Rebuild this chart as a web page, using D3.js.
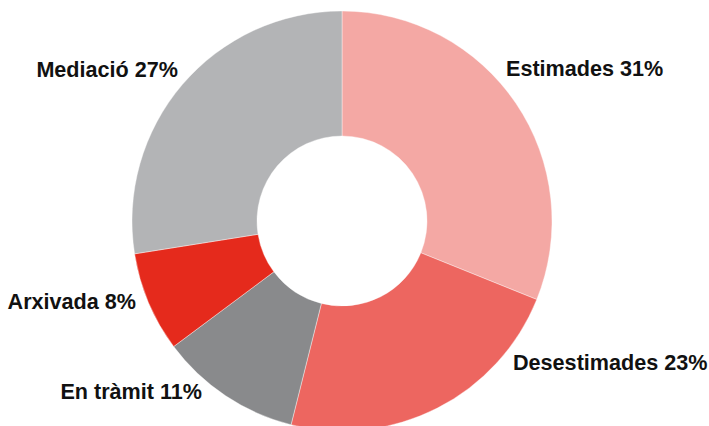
<!DOCTYPE html>
<html>
<head>
<meta charset="utf-8">
<script src="https://cdn.jsdelivr.net/npm/d3@7"></script>
<style>
  body { margin: 0; background: #fff; }
  svg { display: block; }
  .lbl { font-family: "Liberation Sans", Arial, sans-serif; font-weight: bold; font-size: 21.6px; fill: #111; }
</style>
</head>
<body>
<svg id="chart"></svg>
<script>
let w = 709;
let h = 426;

// data (slice shares, in clockwise order from 12 o'clock)
let categories = ["Estimades", "Desestimades", "En tràmit", "Arxivada", "Mediació"];
let shares = [31.1, 22.8, 10.9, 7.7, 27.5];
let percentLabels = ["31%", "23%", "11%", "8%", "27%"];
let colors = ["#f4a8a4", "#ed6660", "#898a8c", "#e52a1c", "#b3b4b6"];

// label placement (layout only)
let labelPos = [
  { x: 506, y: 76, anchor: "start" },
  { x: 513, y: 370, anchor: "start" },
  { x: 202, y: 399, anchor: "end" },
  { x: 136, y: 309, anchor: "end" },
  { x: 178, y: 77, anchor: "end" }
];

let cx = 342, cy = 221;
let outerR = 210, innerR = 85;

let svg = d3.select("#chart").attr("width", w).attr("height", h);

let dataset = categories.map((c, i) => ({ name: c, value: shares[i], pct: percentLabels[i] }));

let pie = d3.pie().sort(null).value((d) => d.value);
let arc = d3.arc().innerRadius(innerR).outerRadius(outerR);

let g = svg.append("g").attr("transform", `translate(${cx}, ${cy})`);

g.selectAll("path")
  .data(pie(dataset))
  .enter()
  .append("path")
  .attr("d", arc)
  .attr("fill", (d, i) => colors[i])
  .attr("stroke", "#fff")
  .attr("stroke-width", 0.4);

svg.selectAll("text.lbl")
  .data(dataset)
  .enter()
  .append("text")
  .attr("class", "lbl")
  .attr("x", (d, i) => labelPos[i].x)
  .attr("y", (d, i) => labelPos[i].y)
  .attr("text-anchor", (d, i) => labelPos[i].anchor)
  .text((d) => `${d.name} ${d.pct}`);
</script>
</body>
</html>
